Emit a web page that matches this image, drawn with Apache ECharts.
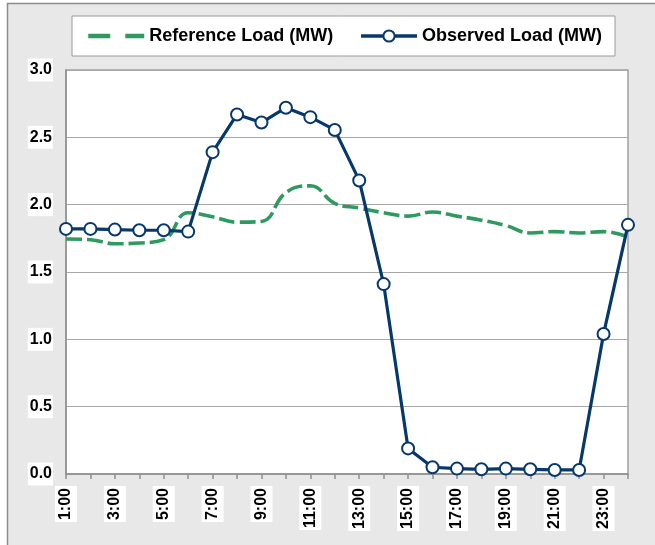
<!DOCTYPE html>
<html lang="en">
<head>
    <meta charset="utf-8">
    <title>Load profile</title>
    <script src="https://cdn.jsdelivr.net/npm/echarts@6/dist/echarts.min.js"></script>
    <style>
        html, body { margin: 0; padding: 0; background: #fff; }
        #main { width: 655px; height: 545px; }
    </style>
</head>
<body>
<div id="main"></div>

<script type="text/javascript">
    // data
    var hours = ['1:00','2:00','3:00','4:00','5:00','6:00','7:00','8:00','9:00','10:00','11:00','12:00',
                 '13:00','14:00','15:00','16:00','17:00','18:00','19:00','20:00','21:00','22:00','23:00','24:00'];
    var referenceLoad = [1.745, 1.74, 1.71, 1.715, 1.74, 1.94, 1.91, 1.87, 1.875, 2.09, 2.14, 2.01,
                         1.975, 1.94, 1.915, 1.945, 1.915, 1.885, 1.845, 1.79, 1.80, 1.79, 1.80, 1.76];
    var observedLoad = [1.82, 1.82, 1.815, 1.81, 1.81, 1.80, 2.39, 2.67, 2.61, 2.72, 2.65, 2.555,
                        2.18, 1.41, 0.19, 0.05, 0.04, 0.035, 0.04, 0.035, 0.03, 0.03, 1.04, 1.85];

    var myChart = echarts.init(document.getElementById('main'));

    var green = '#2e9a60';
    var navy = '#06386c';
    var fontFamily = 'Liberation Sans, Arial, sans-serif';
    var labelFont = { fontFamily: fontFamily, fontWeight: 'bold', fontSize: 16, color: '#000' };

    myChart.setOption({
        animation: false,
        graphic: [{
            type: 'rect',
            z: -10,
            shape: { x: 7.5, y: 3.5, width: 700, height: 600 },
            style: { fill: '#e8e8e8', stroke: '#8c8c8c', lineWidth: 1.5 }
        }],
        legend: {
            left: 72,
            top: 16,
            padding: [11, 13, 11, 14],
            itemGap: 26,
            itemWidth: 56,
            itemHeight: 14,
            backgroundColor: '#fff',
            borderColor: '#9a9a9a',
            borderWidth: 1,
            textStyle: { fontFamily: fontFamily, fontWeight: 'bold', fontSize: 18, color: '#000' },
            data: [
                { name: 'Reference Load (MW)', itemStyle: { opacity: 0 },
                  lineStyle: { width: 4.5, type: [22, 15] } },
                { name: 'Observed Load (MW)', lineStyle: { width: 3.5 } }
            ]
        },
        grid: {
            left: 66,
            right: 27,
            top: 70,
            bottom: 71,
            show: true,
            backgroundColor: '#fff',
            borderColor: '#a0a0a0',
            borderWidth: 1.5
        },
        xAxis: {
            type: 'category',
            data: hours,
            boundaryGap: false,
            axisLine: { lineStyle: { color: '#909090', width: 1.5 } },
            axisTick: { show: true, interval: 0, length: 5, lineStyle: { color: '#909090', width: 1.5 } },
            axisLabel: Object.assign({
                interval: 1,
                rotate: 90,
                margin: 12,
                backgroundColor: '#fff',
                padding: [4, 2, 2, 2]
            }, labelFont),
            splitLine: { show: false }
        },
        yAxis: {
            type: 'value',
            min: 0,
            max: 3,
            interval: 0.5,
            axisLine: { show: true, lineStyle: { color: '#909090', width: 1.5 } },
            axisTick: { show: false },
            axisLabel: Object.assign({
                margin: 13,
                backgroundColor: '#fff',
                padding: [4, 1, 3, 2],
                formatter: function (v) { return v.toFixed(1); }
            }, labelFont),
            splitLine: { lineStyle: { color: '#a8a8a8', width: 1.2 } }
        },
        series: [{
            name: 'Reference Load (MW)',
            type: 'line',
            data: referenceLoad,
            smooth: 0.45,
            showSymbol: false,
            symbol: 'none',
            lineStyle: { color: green, width: 3.6, type: [16, 5] },
            itemStyle: { color: green },
            z: 2
        }, {
            name: 'Observed Load (MW)',
            type: 'line',
            data: observedLoad,
            symbol: 'circle',
            symbolSize: 12,
            showAllSymbol: true,
            lineStyle: { color: navy, width: 3.2 },
            itemStyle: { color: '#fff', borderColor: navy, borderWidth: 2 },
            z: 3
        }]
    });
</script>
</body>
</html>
